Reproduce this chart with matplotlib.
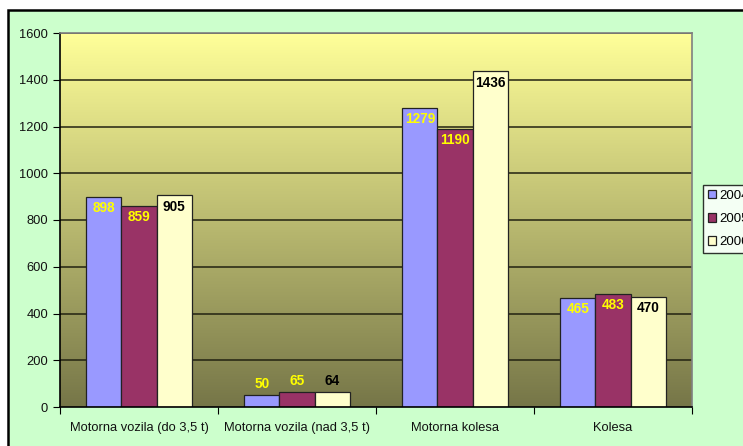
import numpy as np
import matplotlib.pyplot as plt
from matplotlib.patches import Rectangle
from matplotlib.colors import LinearSegmentedColormap

plt.rcParams['font.family'] = ['Liberation Sans', 'DejaVu Sans']

categories = ['Motorna vozila (do 3,5 t)', 'Motorna vozila (nad 3,5 t)',
              'Motorna kolesa', 'Kolesa']
years = ['2004', '2005', '2006']
v2004 = [898, 50, 1279, 465]
v2005 = [859, 65, 1190, 483]
v2006 = [905, 64, 1436, 470]

colors = ['#9999FF', '#993366', '#FFFFCC']
label_colors = ['#FFFF00', '#FFFF00', 'black']

W, H = 743, 446
fig = plt.figure(figsize=(W / 100, H / 100), dpi=100, facecolor='white')

# green chart area frame (cropped at right/bottom)
fig.patches.append(Rectangle((8 / W, -0.1), 1.2, 1 - 10 / H + 0.1,
                             transform=fig.transFigure, facecolor='#CCFFCC',
                             edgecolor='black', linewidth=1.8, zorder=-5))

ax = fig.add_axes([60 / W, 1 - 407 / H, (692 - 60) / W, (407 - 33) / H])

# gradient background
cmap = LinearSegmentedColormap.from_list('bg', ['#767648', '#FFFF99'])
grad = np.linspace(0, 1, 256).reshape(-1, 1)
ax.imshow(grad, cmap=cmap, aspect='auto', origin='lower',
          extent=[-0.5, 3.5, 0, 1600], zorder=0)

ax.set_xlim(-0.5, 3.5)
ax.set_ylim(0, 1600)
ax.set_yticks(range(0, 1601, 200))
for y in range(200, 1601, 200):
    ax.axhline(y, color='#222211', linewidth=1.1, zorder=1)

x = np.arange(len(categories))
bw = 0.222
series = [v2004, v2005, v2006]
for i, vals in enumerate(series):
    xs = x + (i - 1) * bw
    ax.bar(xs, vals, width=bw, color=colors[i], edgecolor='#222222',
           linewidth=0.9, zorder=2, label=years[i])
    for xi, v in zip(xs, vals):
        if v > 200:
            ax.annotate(str(v), (xi, v), xytext=(0, -3), textcoords='offset points',
                        ha='center', va='top', fontsize=9.8, fontweight='bold',
                        color=label_colors[i], zorder=3)
        else:
            ax.annotate(str(v), (xi, v), xytext=(0, 3), textcoords='offset points',
                        ha='center', va='bottom', fontsize=9.8, fontweight='bold',
                        color=label_colors[i], zorder=3)

# category ticks at boundaries, labels centered
ax.set_xticks(np.arange(-0.5, 3.6, 1.0))
ax.set_xticklabels([])
ax.set_xticks(x, minor=True)
ax.set_xticklabels(categories, minor=True, fontsize=9.3, color='#111111')
ax.tick_params(axis='x', which='minor', length=0, pad=11)
ax.tick_params(axis='x', which='major', length=5, color='black')
ax.tick_params(axis='y', length=5, labelsize=9.3, color='black', labelcolor='#111111')

ax.spines['left'].set_color('black')
ax.spines['bottom'].set_color('black')
ax.spines['top'].set_color('#808080')
ax.spines['right'].set_color('#808080')
for s in ax.spines.values():
    s.set_linewidth(1.2)

leg = fig.legend(loc='upper left', bbox_to_anchor=(703 / W, 1 - 185 / H),
                 borderaxespad=0, fontsize=9.5, frameon=True, fancybox=False,
                 edgecolor='black', handlelength=0.65, handleheight=0.65,
                 handletextpad=0.2, borderpad=0.35, labelspacing=0.85)
leg.get_frame().set_facecolor('white')
leg.get_frame().set_linewidth(1.0)

fig.savefig('out.png', dpi=100, facecolor=fig.get_facecolor())
